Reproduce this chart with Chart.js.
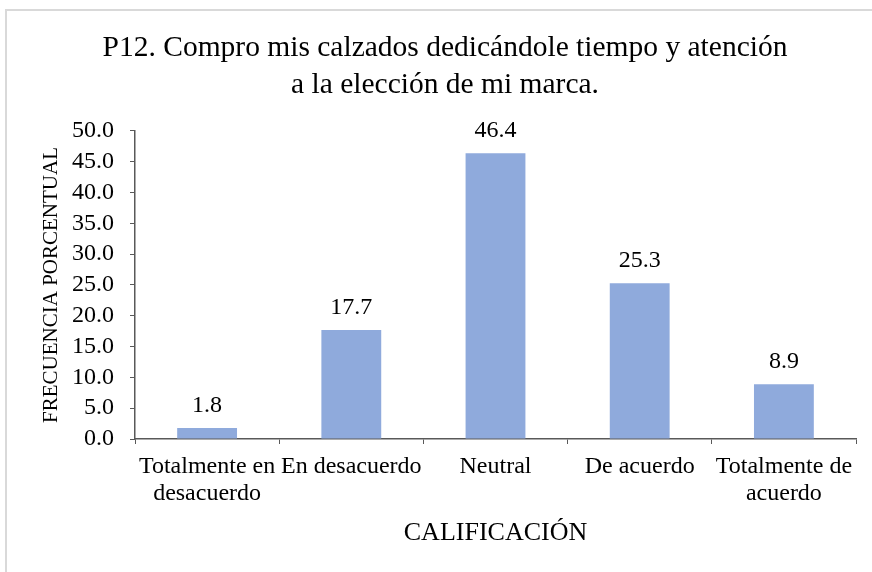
<!DOCTYPE html>
<html>
<head>
<meta charset="utf-8">
<script src="https://cdn.jsdelivr.net/npm/chart.js@4/dist/chart.umd.min.js"></script>
<style>
  html, body { margin: 0; padding: 0; background: #fff; }
  #frame { position: absolute; left: 5px; top: 9px; width: 900px; height: 600px;
           border-left: 2px solid #d9d9d9; border-top: 2px solid #d9d9d9; }
  #wrap { position: absolute; left: 0; top: 0; width: 872px; height: 572px; }
</style>
</head>
<body>
<div id="frame"></div>
<div id="wrap"><canvas id="chart" width="872" height="572"></canvas></div>
<script>
const TITLE = ['P12. Compro mis calzados dedicándole tiempo y atención', 'a la elección de mi marca.'];
const CATEGORIES = [['Totalmente en', 'desacuerdo'], 'En desacuerdo', 'Neutral', 'De acuerdo', ['Totalmente de', 'acuerdo']];
const VALUES = [1.8, 17.7, 46.4, 25.3, 8.9];
const X_TITLE = 'CALIFICACIÓN';
const Y_TITLE = 'FRECUENCIA PORCENTUAL';

const SERIF = '"Liberation Serif", "Times New Roman", serif';
const AXIS = '#595959';

// value labels above each bar
const barLabels = {
    id: 'barLabels',
    afterDatasetsDraw(chart) {
        const ctx = chart.ctx;
        const meta = chart.getDatasetMeta(0);
        ctx.save();
        ctx.font = '24px ' + SERIF;
        ctx.fillStyle = '#000';
        ctx.textAlign = 'center';
        ctx.textBaseline = 'middle';
        meta.data.forEach((bar, i) => {
            ctx.fillText(VALUES[i].toFixed(1), bar.x, bar.y - 22);
        });
        ctx.restore();
    }
};

new Chart(document.getElementById('chart'), {
    type: 'bar',
    data: {
        labels: CATEGORIES,
        datasets: [{
            data: VALUES,
            backgroundColor: '#8faadc',
            borderWidth: 0,
            categoryPercentage: 1,
            barPercentage: 0.415,
        }],
    },
    options: {
        responsive: false,
        animation: false,
        // left padding shifts the title centre; y axis width is reduced to keep the plot edge at 135
        layout: { padding: { left: 34, right: 16, top: 0, bottom: 0 } },
        plugins: {
            legend: { display: false },
            tooltip: { enabled: false },
            title: {
                display: true,
                text: TITLE,
                color: '#000',
                font: { family: SERIF, size: 29.5, weight: 'normal', lineHeight: 1.254 },
                padding: { top: 29.5, bottom: 27.5 },
            },
        },
        scales: {
            x: {
                grid: { display: true, drawOnChartArea: false, drawTicks: true, tickLength: 5, color: AXIS, offset: true },
                border: { display: true, color: AXIS, width: 1.5 },
                ticks: { color: '#000', font: { family: SERIF, size: 24, lineHeight: 1.125 }, padding: 9, maxRotation: 0, autoSkip: false },
                title: { display: true, text: X_TITLE, color: '#000', font: { family: SERIF, size: 26, lineHeight: 1.2 }, padding: { top: 0, bottom: 23 } },
                afterFit(s) { s.height = 133; },
            },
            y: {
                min: 0,
                max: 50,
                grid: { display: true, drawOnChartArea: false, drawTicks: true, tickLength: 5, color: AXIS },
                border: { display: true, color: AXIS, width: 1.5 },
                ticks: { stepSize: 5, autoSkip: false, color: '#000', font: { family: SERIF, size: 24, lineHeight: 1 }, padding: 16,
                         callback: v => v.toFixed(1) },
                title: { display: true, text: Y_TITLE, color: '#000', font: { family: SERIF, size: 21, lineHeight: 1.2 }, padding: { top: 5, bottom: 0 } },
                afterFit(s) { s.width = 101; },
            },
        },
    },
    plugins: [barLabels],
});
</script>
</body>
</html>
